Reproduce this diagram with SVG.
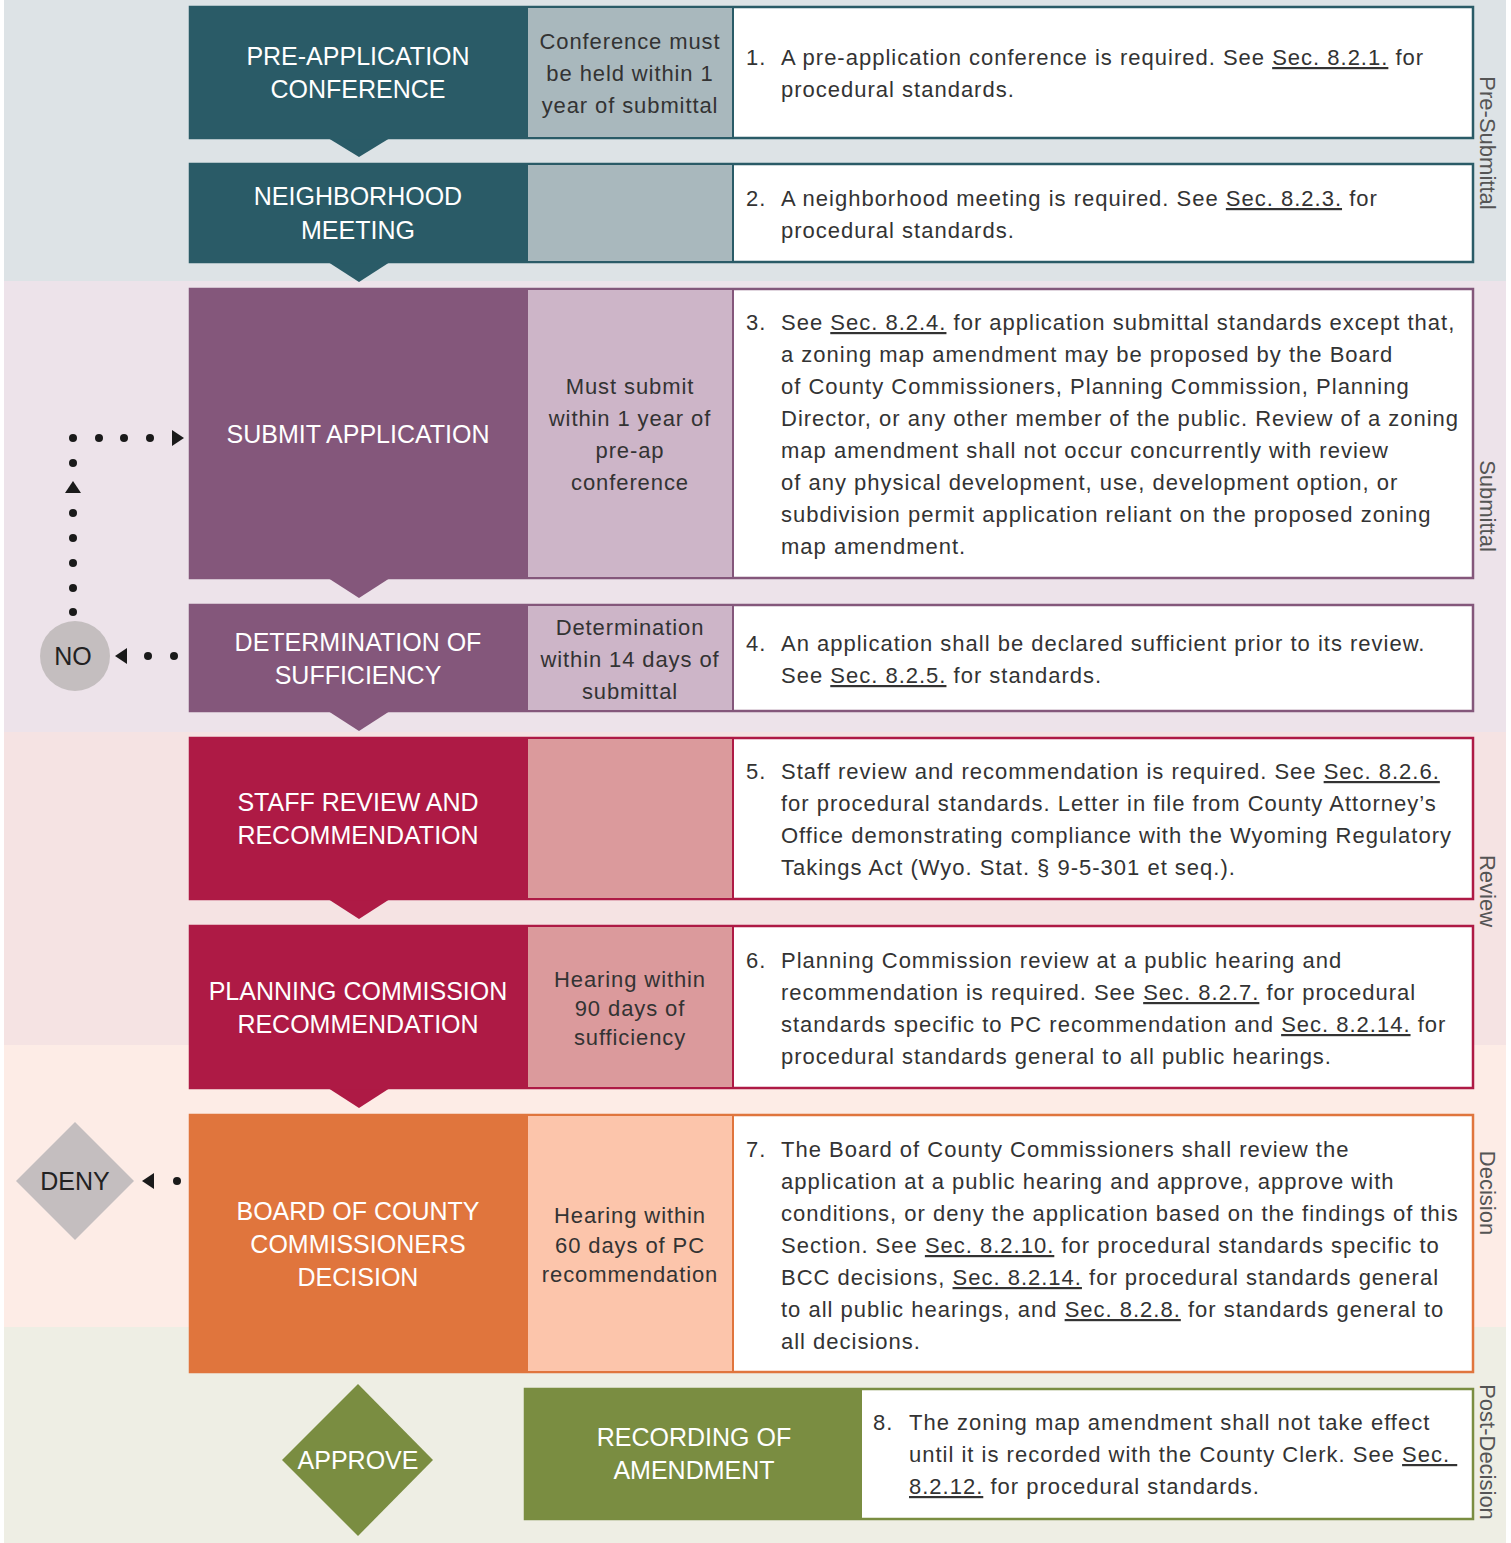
<svg xmlns="http://www.w3.org/2000/svg" width="1511" height="1543" viewBox="0 0 1511 1543">
<style>
.title{font-family:"Liberation Sans",Arial,sans-serif;font-size:25px;fill:#ffffff;text-anchor:middle}
.note{font-family:"Liberation Sans",Arial,sans-serif;font-size:22px;fill:#333333;text-anchor:middle;letter-spacing:0.9px}
.body{font-family:"Liberation Sans",Arial,sans-serif;font-size:22px;fill:#333333;letter-spacing:1px}
.side{font-family:"Liberation Sans",Arial,sans-serif;font-size:22px;fill:#555555;text-anchor:middle}
.u{text-decoration:underline}
.dec{font-family:"Liberation Sans",Arial,sans-serif;font-size:25px;text-anchor:middle}
.dot{fill:#1a1a1a}
</style>
<rect width="1511" height="1543" fill="#ffffff"/>
<g id="bands">
<rect x="4" y="0" width="1502" height="281" fill="#dde3e6"/>
<rect x="4" y="281" width="1502" height="451" fill="#ede3ea"/>
<rect x="4" y="732" width="1502" height="313" fill="#f5e3e3"/>
<rect x="4" y="1045" width="1502" height="282" fill="#fdece6"/>
<rect x="4" y="1327" width="1502" height="216" fill="#eeeee4"/>
<text class="side" transform="translate(1480,143) rotate(90)">Pre-Submittal</text>
<text class="side" transform="translate(1480,506) rotate(90)">Submittal</text>
<text class="side" transform="translate(1480,891) rotate(90)">Review</text>
<text class="side" transform="translate(1480,1193) rotate(90)">Decision</text>
<text class="side" transform="translate(1480,1452) rotate(90)">Post-Decision</text>
</g>
<g id="connectors">
<polygon points="328,138 390,138 359,157" fill="#2a5b67"/>
<polygon points="328,262 390,262 359,282" fill="#2a5b67"/>
<polygon points="328,578 390,578 359,598" fill="#84577b"/>
<polygon points="328,711 390,711 359,731" fill="#84577b"/>
<polygon points="328,899 390,899 359,919" fill="#ae1a45"/>
<polygon points="328,1088 390,1088 359,1108" fill="#ae1a45"/>
<circle class="dot" cx="174" cy="656" r="4"/>
<circle class="dot" cx="148" cy="656" r="4"/>
<polygon class="dot" points="115,656 127,648 127,664"/>
<circle class="dot" cx="73" cy="612" r="4"/>
<circle class="dot" cx="73" cy="588" r="4"/>
<circle class="dot" cx="73" cy="563" r="4"/>
<circle class="dot" cx="73" cy="538" r="4"/>
<circle class="dot" cx="73" cy="513" r="4"/>
<polygon class="dot" points="65,493 73,481 81,493"/>
<circle class="dot" cx="73" cy="463" r="4"/>
<circle class="dot" cx="73" cy="438" r="4"/>
<circle class="dot" cx="99" cy="438" r="4"/>
<circle class="dot" cx="124" cy="438" r="4"/>
<circle class="dot" cx="150" cy="438" r="4"/>
<polygon class="dot" points="172,430 184,438 172,446"/>
<circle class="dot" cx="177" cy="1181" r="4"/>
<polygon class="dot" points="142,1181 154,1173 154,1189"/>
<circle class="dot" cx="358" cy="1319" r="4"/>
<circle class="dot" cx="358" cy="1342" r="4"/>
<polygon class="dot" points="350,1360 366,1360 358,1373"/>
</g>
<g id="pre-application-conference">
<rect x="190" y="7" width="1283" height="131" fill="#ffffff" stroke="#2a5b67" stroke-width="2.5"/>
<rect x="190" y="6" width="337" height="133" fill="#2a5b67"/>
<rect x="527" y="7" width="206" height="131" fill="#a9b8bd" stroke="#2a5b67" stroke-width="2"/>
<text class="title" x="358" y="65">PRE-APPLICATION</text>
<text class="title" x="358" y="98">CONFERENCE</text>
<text class="note" x="630" y="49">Conference must</text>
<text class="note" x="630" y="81">be held within 1</text>
<text class="note" x="630" y="113">year of submittal</text>
<text class="body" x="746" y="65">1.</text>
<text class="body" x="781" y="65">A pre-application conference is required. See <tspan class="u">Sec. 8.2.1.</tspan> for</text>
<text class="body" x="781" y="97">procedural standards.</text>
</g>
<g id="neighborhood-meeting">
<rect x="190" y="164" width="1283" height="98" fill="#ffffff" stroke="#2a5b67" stroke-width="2.5"/>
<rect x="190" y="163" width="337" height="100" fill="#2a5b67"/>
<rect x="527" y="164" width="206" height="98" fill="#a9b8bd" stroke="#2a5b67" stroke-width="2"/>
<text class="title" x="358" y="205">NEIGHBORHOOD</text>
<text class="title" x="358" y="239">MEETING</text>
<text class="body" x="746" y="206">2.</text>
<text class="body" x="781" y="206">A neighborhood meeting is required. See <tspan class="u">Sec. 8.2.3.</tspan> for</text>
<text class="body" x="781" y="238">procedural standards.</text>
</g>
<g id="submit-application">
<rect x="190" y="289" width="1283" height="289" fill="#ffffff" stroke="#84577b" stroke-width="2.5"/>
<rect x="190" y="288" width="337" height="291" fill="#84577b"/>
<rect x="527" y="289" width="206" height="289" fill="#cdb5c8" stroke="#84577b" stroke-width="2"/>
<text class="title" x="358" y="443">SUBMIT APPLICATION</text>
<text class="note" x="630" y="394">Must submit</text>
<text class="note" x="630" y="426">within 1 year of</text>
<text class="note" x="630" y="458">pre-ap</text>
<text class="note" x="630" y="490">conference</text>
<text class="body" x="746" y="330">3.</text>
<text class="body" x="781" y="330">See <tspan class="u">Sec. 8.2.4.</tspan> for application submittal standards except that,</text>
<text class="body" x="781" y="362">a zoning map amendment may be proposed by the Board</text>
<text class="body" x="781" y="394">of County Commissioners, Planning Commission, Planning</text>
<text class="body" x="781" y="426">Director, or any other member of the public. Review of a zoning</text>
<text class="body" x="781" y="458">map amendment shall not occur concurrently with review</text>
<text class="body" x="781" y="490">of any physical development, use, development option, or</text>
<text class="body" x="781" y="522">subdivision permit application reliant on the proposed zoning</text>
<text class="body" x="781" y="554">map amendment.</text>
</g>
<g id="determination-of-sufficiency">
<rect x="190" y="605" width="1283" height="106" fill="#ffffff" stroke="#84577b" stroke-width="2.5"/>
<rect x="190" y="604" width="337" height="108" fill="#84577b"/>
<rect x="527" y="605" width="206" height="106" fill="#cdb5c8" stroke="#84577b" stroke-width="2"/>
<text class="title" x="358" y="651">DETERMINATION OF</text>
<text class="title" x="358" y="684">SUFFICIENCY</text>
<text class="note" x="630" y="635">Determination</text>
<text class="note" x="630" y="667">within 14 days of</text>
<text class="note" x="630" y="699">submittal</text>
<text class="body" x="746" y="651">4.</text>
<text class="body" x="781" y="651">An application shall be declared sufficient prior to its review.</text>
<text class="body" x="781" y="683">See <tspan class="u">Sec. 8.2.5.</tspan> for standards.</text>
</g>
<g id="no">
<circle cx="75" cy="656" r="35" fill="#c4bebf"/>
<text class="dec" x="73" y="665" fill="#222222">NO</text>
</g>
<g id="staff-review">
<rect x="190" y="738" width="1283" height="161" fill="#ffffff" stroke="#ae1a45" stroke-width="2.5"/>
<rect x="190" y="737" width="337" height="163" fill="#ae1a45"/>
<rect x="527" y="738" width="206" height="161" fill="#db9a9c" stroke="#ae1a45" stroke-width="2"/>
<text class="title" x="358" y="811">STAFF REVIEW AND</text>
<text class="title" x="358" y="844">RECOMMENDATION</text>
<text class="body" x="746" y="779">5.</text>
<text class="body" x="781" y="779">Staff review and recommendation is required. See <tspan class="u">Sec. 8.2.6.</tspan></text>
<text class="body" x="781" y="811">for procedural standards. Letter in file from County Attorney’s</text>
<text class="body" x="781" y="843">Office demonstrating compliance with the Wyoming Regulatory</text>
<text class="body" x="781" y="875">Takings Act (Wyo. Stat. § 9-5-301 et seq.).</text>
</g>
<g id="planning-commission">
<rect x="190" y="926" width="1283" height="162" fill="#ffffff" stroke="#ae1a45" stroke-width="2.5"/>
<rect x="190" y="925" width="337" height="164" fill="#ae1a45"/>
<rect x="527" y="926" width="206" height="162" fill="#db9a9c" stroke="#ae1a45" stroke-width="2"/>
<text class="title" x="358" y="1000">PLANNING COMMISSION</text>
<text class="title" x="358" y="1033">RECOMMENDATION</text>
<text class="note" x="630" y="987">Hearing within</text>
<text class="note" x="630" y="1016">90 days of</text>
<text class="note" x="630" y="1045">sufficiency</text>
<text class="body" x="746" y="968">6.</text>
<text class="body" x="781" y="968">Planning Commission review at a public hearing and</text>
<text class="body" x="781" y="1000">recommendation is required. See <tspan class="u">Sec. 8.2.7.</tspan> for procedural</text>
<text class="body" x="781" y="1032">standards specific to PC recommendation and <tspan class="u">Sec. 8.2.14.</tspan> for</text>
<text class="body" x="781" y="1064">procedural standards general to all public hearings.</text>
</g>
<g id="bcc-decision">
<rect x="190" y="1115" width="1283" height="257" fill="#ffffff" stroke="#e0753d" stroke-width="2.5"/>
<rect x="190" y="1114" width="337" height="259" fill="#e0753d"/>
<rect x="527" y="1115" width="206" height="257" fill="#fcc5ab" stroke="#e0753d" stroke-width="2"/>
<text class="title" x="358" y="1220">BOARD OF COUNTY</text>
<text class="title" x="358" y="1253">COMMISSIONERS</text>
<text class="title" x="358" y="1286">DECISION</text>
<text class="note" x="630" y="1223">Hearing within</text>
<text class="note" x="630" y="1253">60 days of PC</text>
<text class="note" x="630" y="1282">recommendation</text>
<text class="body" x="746" y="1157">7.</text>
<text class="body" x="781" y="1157">The Board of County Commissioners shall review the</text>
<text class="body" x="781" y="1189">application at a public hearing and approve, approve with</text>
<text class="body" x="781" y="1221">conditions, or deny the application based on the findings of this</text>
<text class="body" x="781" y="1253">Section. See <tspan class="u">Sec. 8.2.10.</tspan> for procedural standards specific to</text>
<text class="body" x="781" y="1285">BCC decisions, <tspan class="u">Sec. 8.2.14.</tspan> for procedural standards general</text>
<text class="body" x="781" y="1317">to all public hearings, and <tspan class="u">Sec. 8.2.8.</tspan> for standards general to</text>
<text class="body" x="781" y="1349">all decisions.</text>
</g>
<g id="deny">
<polygon points="75,1122 134,1181 75,1240 16,1181" fill="#c4bebf"/>
<text class="dec" x="75" y="1190" fill="#222222">DENY</text>
</g>
<g id="approve">
<polygon points="358,1384 433,1460 358,1536 282,1460" fill="#7a8d41"/>
<text class="dec" x="358" y="1469" fill="#ffffff">APPROVE</text>
</g>
<g id="recording-of-amendment">
<rect x="525" y="1389" width="948" height="130" fill="#ffffff" stroke="#7a8d41" stroke-width="2.5"/>
<rect x="524" y="1388" width="338" height="132" fill="#7a8d41"/>
<text class="title" x="694" y="1446">RECORDING OF</text>
<text class="title" x="694" y="1479">AMENDMENT</text>
<text class="body" x="873" y="1430">8.</text>
<text class="body" x="909" y="1430">The zoning map amendment shall not take effect</text>
<text class="body" x="909" y="1462">until it is recorded with the County Clerk. See <tspan class="u">Sec.&#160;</tspan></text>
<text class="body" x="909" y="1494"><tspan class="u">8.2.12.</tspan> for procedural standards.</text>
</g>
</svg>
